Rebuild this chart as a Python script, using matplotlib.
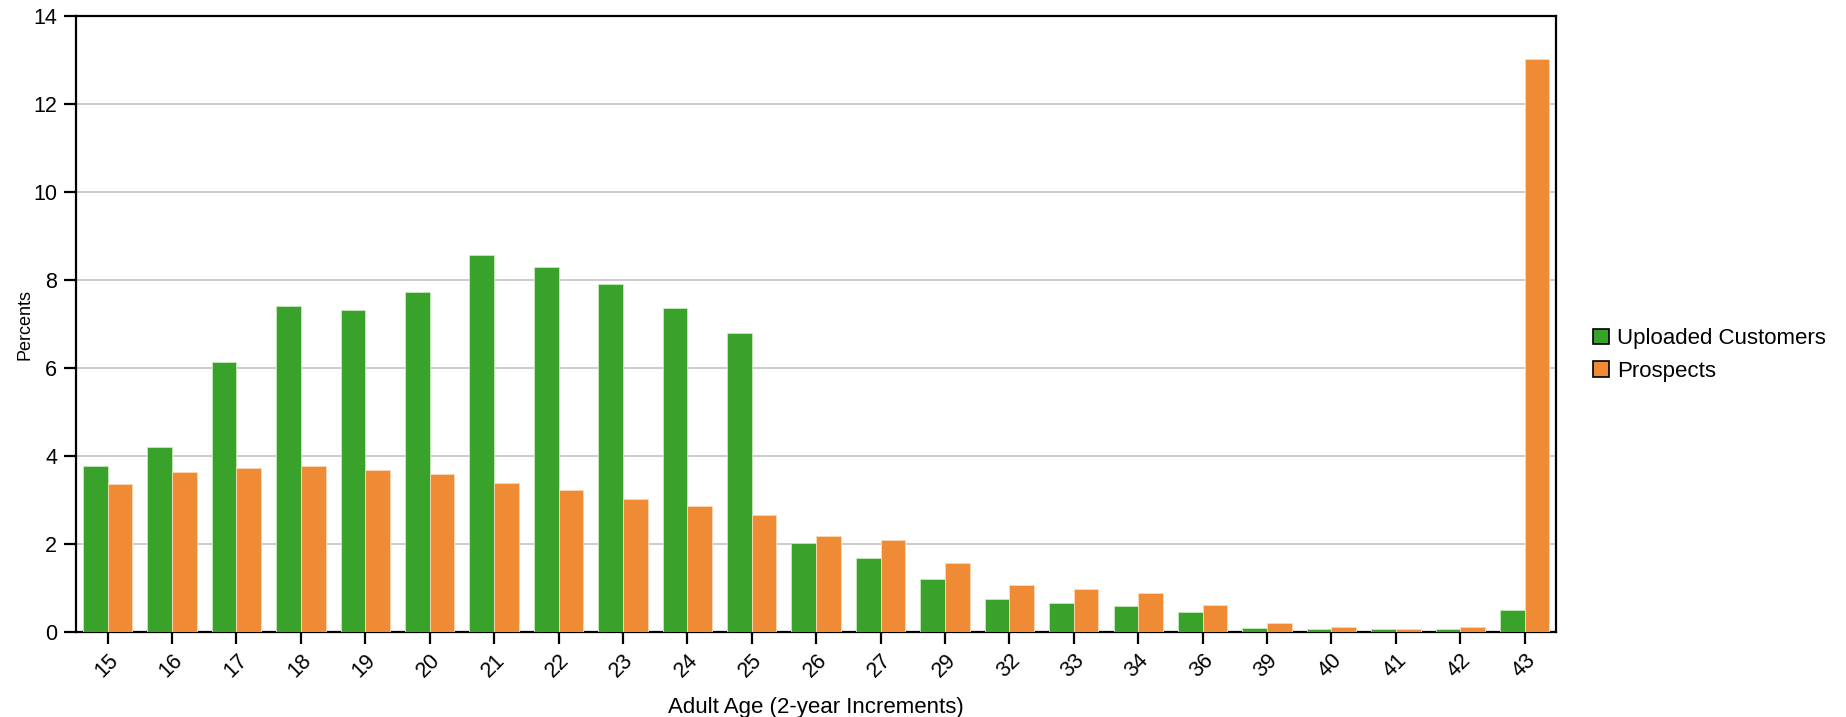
import matplotlib
matplotlib.use('Agg')
import matplotlib.pyplot as plt
import numpy as np

plt.rcParams['font.family'] = ['Liberation Sans', 'DejaVu Sans']

# age buckets (2-year increments) and percent shares
ages = ['15', '16', '17', '18', '19', '20', '21', '22', '23', '24', '25', '26',
        '27', '29', '32', '33', '34', '36', '39', '40', '41', '42', '43']
uploaded = [3.78, 4.20, 6.15, 7.42, 7.33, 7.74, 8.58, 8.30, 7.92, 7.36, 6.80, 2.03,
            1.69, 1.20, 0.76, 0.65, 0.60, 0.46, 0.10, 0.06, 0.06, 0.06, 0.50]
prospects = [3.36, 3.64, 3.73, 3.78, 3.69, 3.59, 3.40, 3.22, 3.02, 2.87, 2.67, 2.19,
             2.09, 1.58, 1.06, 0.98, 0.89, 0.61, 0.21, 0.11, 0.06, 0.11, 13.04]

green = '#39a22b'
orange = '#ee8b34'

fig = plt.figure(figsize=(18.46, 7.17), dpi=100)
ax = fig.add_axes([0.0412, 0.1185, 0.8015, 0.8585])

x = np.arange(len(ages))
w = 0.383
ax.bar(x - w / 2, uploaded, w, color=green, edgecolor='#c8e8c0', linewidth=0.6,
       label='Uploaded Customers', zorder=3)
ax.bar(x + w / 2, prospects, w, color=orange, edgecolor='#fbd9b8', linewidth=0.6,
       label='Prospects', zorder=3)

ax.set_xlim(-0.49, len(ages) - 0.52)
ax.set_ylim(0, 14)
ax.set_yticks(range(0, 15, 2))
ax.set_xticks(x)
ax.set_xticklabels(ages, rotation=45, ha='right', rotation_mode='anchor')
ax.yaxis.grid(True, color='#c8c8c8', linewidth=1.3, zorder=0)
ax.set_axisbelow(True)

for s in ax.spines.values():
    s.set_linewidth(1.6)
    s.set_color('black')
ax.tick_params(axis='both', direction='out', length=8.5, width=1.6, labelsize=15.5,
               colors='black')
ax.tick_params(axis='y', pad=5)
ax.tick_params(axis='x', pad=4)

ax.set_ylabel('Percents', fontsize=13)
ax.yaxis.set_label_coords(-0.029, 0.5)
ax.set_xlabel('Adult Age (2-year Increments)', fontsize=16)
ax.xaxis.set_label_coords(0.5, -0.106)

leg = ax.legend(loc='center left', bbox_to_anchor=(1.012, 0.45), frameon=False,
                fontsize=16, handlelength=0.7, handleheight=0.7,
                handletextpad=0.35, labelspacing=0.5)
for h in leg.legend_handles:
    h.set_edgecolor('black')
    h.set_linewidth(1.2)

plt.savefig('out.png', dpi=100)
